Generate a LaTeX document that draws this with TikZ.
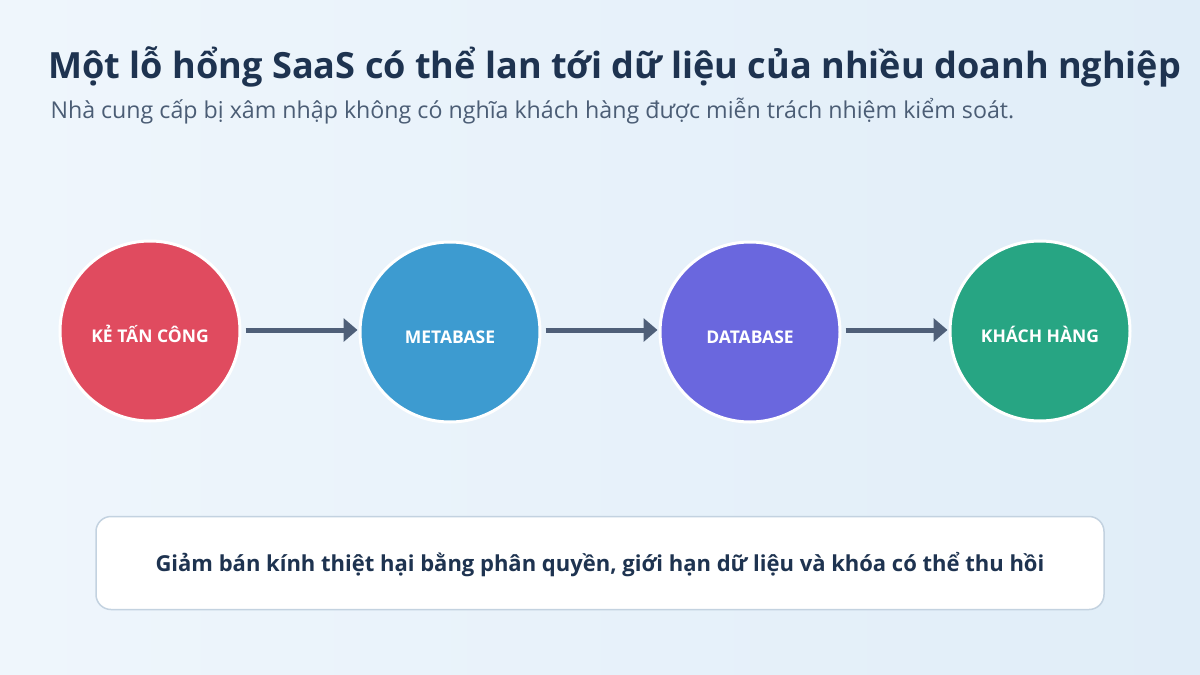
\documentclass[tikz,border=0pt]{standalone}
\usepackage{fontspec}
\setmainfont{Open Sans}
\usetikzlibrary{arrows.meta}
\definecolor{ink}{HTML}{1E3350}
\definecolor{subink}{HTML}{4B5D75}
\definecolor{arrowgray}{HTML}{4F5F78}
\definecolor{boxline}{HTML}{C3D2E0}
\definecolor{attacker}{HTML}{E04B5F}
\definecolor{metabase}{HTML}{3D9BD0}
\definecolor{database}{HTML}{6A67DE}
\definecolor{customer}{HTML}{27A583}
\tikzset{
  stage/.style={circle,draw=white,line width=3pt,minimum size=180pt,inner sep=0pt,
    text height=22pt,text depth=0pt,text=white,font=\fontsize{17.5}{20}\selectfont\bfseries},
  flow/.style={draw=arrowgray,line width=5pt,-{Triangle[length=14pt,width=23pt]}}
}
\begin{document}
\begin{tikzpicture}[x=1pt,y=-1pt]
\shade[left color={rgb,255:red,239;green,246;blue,252},right color={rgb,255:red,224;green,237;blue,248}] (0,0) rectangle (1200,675);
\useasboundingbox (0,0) rectangle (1200,675);
\node[anchor=base west,text=ink,font=\fontsize{36.1}{40}\selectfont\bfseries] (title) at (45,78) {Một lỗ hổng SaaS có thể lan tới dữ liệu của nhiều doanh nghiệp};
\node[anchor=base west,text=subink,font=\fontsize{23.2}{27}\selectfont] (subtitle) at (47,118) {Nhà cung cấp bị xâm nhập không có nghĩa khách hàng được miễn trách nhiệm kiểm soát.};
\node[stage,fill=attacker] (attacker) at (150,331) {KẺ TẤN CÔNG};
\node[stage,fill=metabase] (metabase) at (450,332) {METABASE};
\node[stage,fill=database] (database) at (750,332) {DATABASE};
\node[stage,fill=customer] (customer) at (1040,331) {KHÁCH HÀNG};
\foreach \a/\b in {attacker/metabase,metabase/database,database/customer}
  \draw[flow] ([xshift=4pt]\a.east |- 0,330) -- ([xshift=-1pt]\b.west |- 0,330);
\node[draw=boxline,line width=1.5pt,fill=white,rounded corners=15pt,minimum width=1008pt,minimum height=93pt,
  text height=16pt,text depth=0pt,text=ink,font=\fontsize{22}{26}\selectfont\bfseries] (summary) at (600,563) {Giảm bán kính thiệt hại bằng phân quyền, giới hạn dữ liệu và khóa có thể thu hồi};
\end{tikzpicture}
\end{document}
